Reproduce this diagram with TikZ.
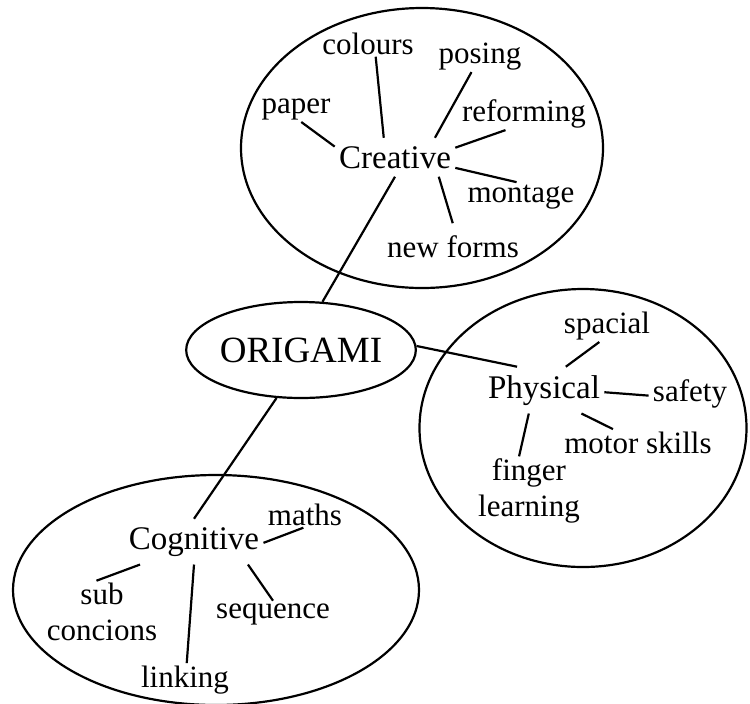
\documentclass[tikz,border=0pt]{standalone}
\usepackage{fontspec}
\setmainfont{Liberation Serif}
\usetikzlibrary{shapes.geometric,positioning}
\tikzset{
  word/.style={
    font=\fontsize{15.5}{18}\selectfont,
    inner xsep=2pt,
    inner ysep=1pt,
    align=center
  },
  hub/.style={
    font=\fontsize{16.5}{19}\selectfont,
    inner xsep=2pt,
    inner ysep=4pt
  },
  group/.style 2 args={
    ellipse,
    draw,
    line width=1.1pt,
    minimum width=#1,
    minimum height=#2,
    inner sep=0pt
  },
  spoke/.style={line width=1.1pt}
}

\begin{document}
\begin{tikzpicture}[x=0.5pt,y=-0.5pt]
\useasboundingbox (0,0) rectangle (750,703);

\node[group={181pt}{140pt}] (creativegroup) at (422,148) {};
\node[group={163.5pt}{139pt}] (physicalgroup) at (583,428) {};
\node[group={203pt}{115pt}] (cognitivegroup) at (216,590) {};

\node[group={106pt}{48pt},font=\fontsize{18.5}{21}\selectfont] (origami) at (301,350) {ORIGAMI};

\node[hub,anchor=base] (creative) at (395,168) {Creative};
\node[hub,anchor=base] (physical) at (544,398) {Physical};
\node[hub,anchor=base] (cognitive) at (194,549) {Cognitive};

\node[word,anchor=base] (paper) at (296,113) {paper};
\node[word,anchor=base] (colours) at (368,54) {colours};
\node[word,anchor=base] (posing) at (480,63) {posing};
\node[word,anchor=base] (reforming) at (524,121) {reforming};
\node[word,anchor=base] (montage) at (521,202) {montage};
\node[word,anchor=base] (newforms) at (453,257) {new forms};

\node[word,anchor=base] (spacial) at (607,333) {spacial};
\node[word,anchor=base] (safety) at (690,401) {safety};
\node[word,anchor=base] (motorskills) at (638,453) {motor skills};
\node[word] (fingerlearning) at (529,491) {finger\\learning};

\node[word,anchor=base] (maths) at (305,525) {maths};
\node[word] (subconcions) at (102,612) {sub\\concions};
\node[word,anchor=base] (sequence) at (273,618) {sequence};
\node[word,anchor=base] (linking) at (185,687) {linking};

\draw[spoke] (origami.66) -- (creative.south);
\draw[spoke] (origami.2) -- (physical.139);
\draw[spoke] (origami.243) -- (cognitive.90);

\draw[spoke] (creative.170) -- (paper.292);
\draw[spoke] (creative.120) -- (colours.300);
\draw[spoke] (creative.26) -- (posing.242);
\draw[spoke] (creative.9) -- (reforming.222);
\draw[spoke] (creative.350) -- (montage.107);
\draw[spoke,shorten >=5pt] (creative.336) -- (newforms.79);

\draw[spoke] (physical.47) -- (spacial.245);
\draw[spoke] (physical.358) -- (safety.183);
\draw[spoke] (physical.328) -- (motorskills.152);
\draw[spoke] (physical.237) -- (fingerlearning.106);

\draw[spoke] (cognitive.359) -- (maths.263);
\draw[spoke] (cognitive.203) -- (subconcions.100);
\draw[spoke] (cognitive.south) -- (linking.84);
\draw[spoke] (cognitive.337) -- (sequence.north);
\end{tikzpicture}
\end{document}
